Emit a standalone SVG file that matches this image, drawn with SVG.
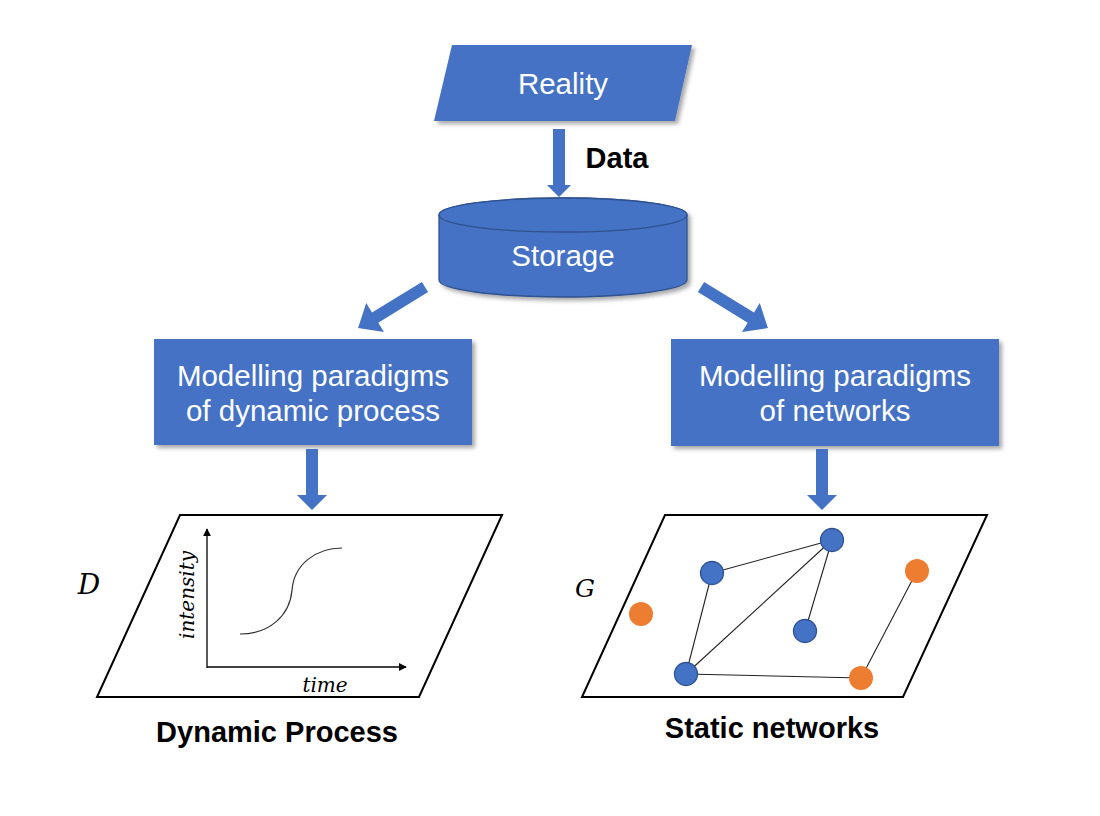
<svg xmlns="http://www.w3.org/2000/svg" width="1100" height="816" viewBox="0 0 1100 816">
  <defs>
    <filter id="shadow" x="-10%" y="-10%" width="125%" height="135%">
      <feDropShadow dx="3" dy="3" stdDeviation="2" flood-color="#000" flood-opacity="0.35"/>
    </filter>
    <marker id="axhead" viewBox="0 0 10 10" refX="9" refY="5" markerWidth="8" markerHeight="8" markerUnits="userSpaceOnUse" orient="auto">
      <path d="M0,0 L10,5 L0,10 z" fill="#000"/>
    </marker>
  </defs>
  <style>
    .blue { fill: #4472C4; }
    .wt { fill: #FFFFFF; font-family: "Liberation Sans", Arial, sans-serif; font-size: 29.5px; text-anchor: middle; }
    .bt { fill: #000000; font-family: "Liberation Sans", Arial, sans-serif; font-size: 29px; font-weight: bold; text-anchor: middle; }
    .mi { fill: #000000; font-family: "DejaVu Serif", serif; font-style: italic; }
    .frame { fill: #FFFFFF; stroke: #000; stroke-width: 2; }
    .edge { stroke: #222; stroke-width: 1.1; fill: none; }
    .bn { fill: #4472C4; stroke: #2F528F; stroke-width: 1.3; }
    .on { fill: #ED7D31; }
  </style>
  <rect width="1100" height="816" fill="#FFFFFF"/>

  <g id="reality">
    <polygon class="blue" filter="url(#shadow)" points="452,45 692,45 675,121 434,121"/>
    <text class="wt" x="563" y="94">Reality</text>
  </g>

  <g id="storage">
    <g filter="url(#shadow)">
      <path class="blue" stroke="#2F528F" stroke-width="1.3" d="M439,215 L439,280 A124,17 0 0 0 687,280 L687,215 A124,17 0 0 0 439,215 Z"/>
    </g>
    <ellipse cx="563" cy="215" rx="124" ry="17" fill="#4472C4" stroke="#2F528F" stroke-width="1.3"/>
    <text class="wt" x="563" y="266">Storage</text>
  </g>

  <g id="model-dynamic">
    <rect class="blue" filter="url(#shadow)" x="154" y="339" width="318" height="106"/>
    <text class="wt" x="313" y="386">Modelling paradigms</text>
    <text class="wt" x="313" y="421">of dynamic process</text>
  </g>

  <g id="model-networks">
    <rect class="blue" filter="url(#shadow)" x="671" y="339" width="328" height="107"/>
    <text class="wt" x="835" y="386">Modelling paradigms</text>
    <text class="wt" x="835" y="421">of networks</text>
  </g>

  <g id="connectors">
    <polygon class="blue" points="553,129 565,129 565,185 571,185 559,197 547,185 553,185"/>
    <text class="bt" x="617" y="168">Data</text>
    <polygon class="blue" transform="translate(425,287) rotate(148.5)" points="0,-6 58.5,-6 58.5,-17 78.5,0 58.5,17 58.5,6 0,6"/>
    <polygon class="blue" transform="translate(701,287) rotate(31.5)" points="0,-6 58.5,-6 58.5,-17 78.5,0 58.5,17 58.5,6 0,6"/>
    <polygon class="blue" points="306,449 318,449 318,495 327,495 312,510 297,495 306,495"/>
    <polygon class="blue" points="816,449 828,449 828,495 837,495 822,510 807,495 816,495"/>
  </g>

  <g id="dynamic-process">
    <polygon class="frame" points="180,515 502,515 419,697 97,697"/>
    <line x1="207" y1="668" x2="207" y2="529" stroke="#000" stroke-width="1.3" marker-end="url(#axhead)"/>
    <line x1="207" y1="667" x2="406" y2="667" stroke="#000" stroke-width="1.3" marker-end="url(#axhead)"/>
    <path d="M240,634 C270,634 290,615 292,590 C294,565 315,548 342,548" fill="none" stroke="#333" stroke-width="1.2"/>
    <text class="mi" font-size="20" transform="translate(194,595) rotate(-90)" text-anchor="middle">intensity</text>
    <text class="mi" font-size="20" x="325" y="692" text-anchor="middle">time</text>
    <text class="mi" font-size="28" x="89" y="594" text-anchor="middle">D</text>
    <text class="bt" x="277" y="742">Dynamic Process</text>
  </g>

  <g id="static-networks">
    <polygon class="frame" points="665,515 987,515 903,697 582,697"/>
    <line class="edge" x1="712" y1="573" x2="832" y2="540"/>
    <line class="edge" x1="712" y1="573" x2="686" y2="674"/>
    <line class="edge" x1="686" y1="674" x2="832" y2="540"/>
    <line class="edge" x1="832" y1="540" x2="805" y2="631"/>
    <line class="edge" x1="686" y1="674" x2="861" y2="678"/>
    <line class="edge" x1="861" y1="678" x2="917" y2="571"/>
    <circle class="bn" cx="712" cy="573" r="11.5"/>
    <circle class="bn" cx="832" cy="540" r="11.5"/>
    <circle class="bn" cx="805" cy="631" r="11.5"/>
    <circle class="bn" cx="686" cy="674" r="11.5"/>
    <circle class="on" cx="641" cy="614" r="12"/>
    <circle class="on" cx="917" cy="571" r="12"/>
    <circle class="on" cx="861" cy="678" r="12"/>
    <text class="mi" font-size="25" x="585" y="597" text-anchor="middle">G</text>
    <text class="bt" x="772" y="738">Static networks</text>
  </g>
</svg>
